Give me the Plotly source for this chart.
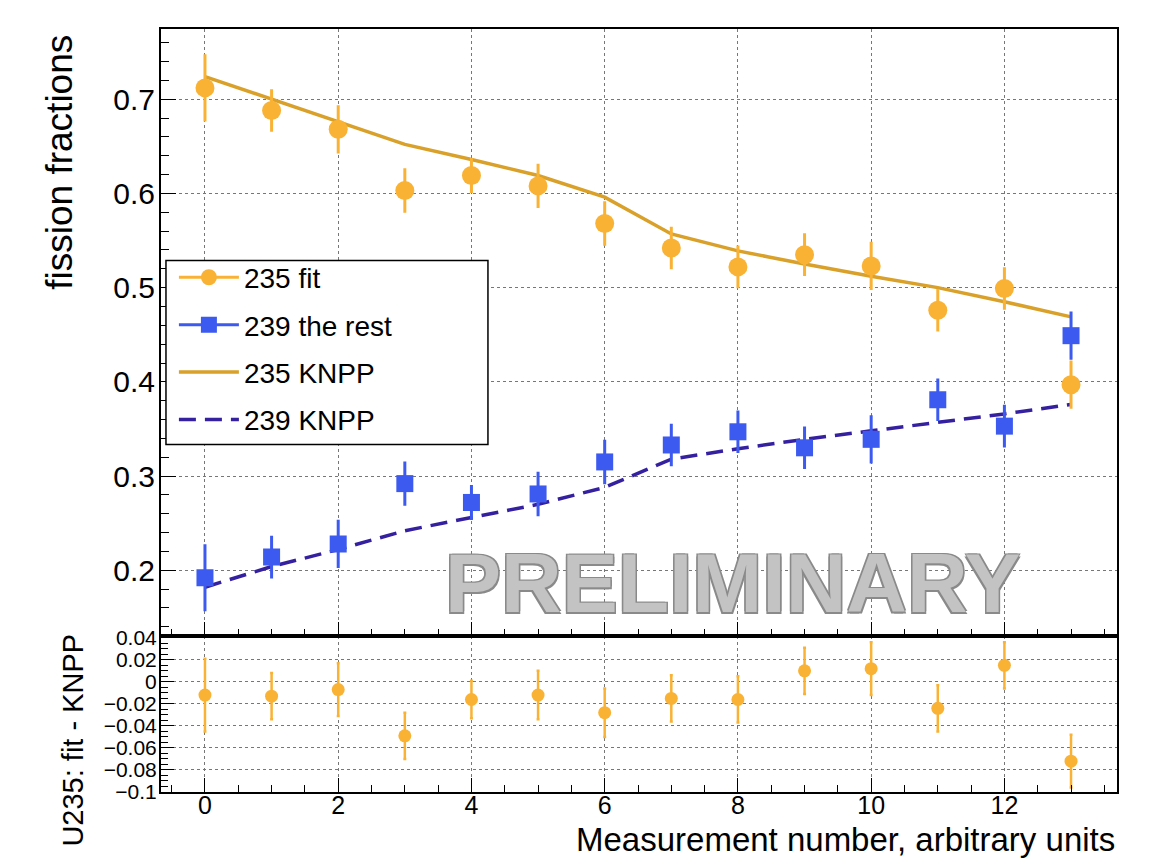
import plotly.graph_objects as go

# ---- data ----
measurement = [0, 1, 2, 3, 4, 5, 6, 7, 8, 9, 10, 11, 12, 13]
u235_fit = [0.712, 0.688, 0.668, 0.603, 0.619, 0.608, 0.568, 0.542, 0.522, 0.535, 0.523, 0.476, 0.499, 0.397]
u235_fit_err = [0.034, 0.021, 0.024, 0.022, 0.017, 0.022, 0.022, 0.021, 0.021, 0.021, 0.024, 0.021, 0.021, 0.024]
u239_rest = [0.192, 0.214, 0.228, 0.292, 0.272, 0.281, 0.315, 0.333, 0.347, 0.330, 0.339, 0.381, 0.353, 0.449]
u239_rest_err = [0.034, 0.021, 0.024, 0.022, 0.017, 0.022, 0.022, 0.021, 0.021, 0.021, 0.024, 0.021, 0.021, 0.024]
u235_knpp = [0.724, 0.700, 0.676, 0.652, 0.636, 0.619, 0.596, 0.557, 0.539, 0.525, 0.512, 0.500, 0.485, 0.469]
u239_knpp = [0.182, 0.204, 0.222, 0.242, 0.256, 0.270, 0.288, 0.318, 0.329, 0.339, 0.348, 0.357, 0.366, 0.376]
resid = [-0.012, -0.013, -0.007, -0.049, -0.016, -0.012, -0.028, -0.015, -0.016, 0.010, 0.012, -0.024, 0.015, -0.072]
resid_err = [0.033, 0.021, 0.024, 0.021, 0.017, 0.022, 0.022, 0.021, 0.021, 0.021, 0.024, 0.021, 0.021, 0.024]

ORANGE = "#F9B234"
GOLD = "#D9A12A"
BLUE = "#3C5AF0"
INDIGO = "#3520A0"
FONT = "Liberation Sans"

fig = go.Figure()

# top panel lines
fig.add_trace(go.Scatter(x=measurement, y=u235_knpp, mode="lines", xaxis="x2", yaxis="y",
                         line=dict(color=GOLD, width=3.5), showlegend=False))
fig.add_trace(go.Scatter(x=measurement, y=u239_knpp, mode="lines", xaxis="x2", yaxis="y",
                         line=dict(color=INDIGO, width=3.5, dash="17px,9px"), showlegend=False))
# top panel markers
fig.add_trace(go.Scatter(x=measurement, y=u235_fit, mode="markers", xaxis="x2", yaxis="y",
                         marker=dict(symbol="circle", size=19, color=ORANGE),
                         error_y=dict(type="data", array=u235_fit_err, color=ORANGE, thickness=3, width=1.5),
                         showlegend=False))
fig.add_trace(go.Scatter(x=measurement, y=u239_rest, mode="markers", xaxis="x2", yaxis="y",
                         marker=dict(symbol="square", size=17, color=BLUE),
                         error_y=dict(type="data", array=u239_rest_err, color=BLUE, thickness=3, width=1.5),
                         showlegend=False))
# bottom panel residuals
fig.add_trace(go.Scatter(x=measurement, y=resid, mode="markers", xaxis="x", yaxis="y2",
                         marker=dict(symbol="circle", size=13, color=ORANGE),
                         error_y=dict(type="data", array=resid_err, color=ORANGE, thickness=2.5, width=1.5),
                         showlegend=False))

# legend entries
leg = [
    ("235 fit", dict(mode="lines+markers", line=dict(color=ORANGE, width=3), marker=dict(symbol="circle", size=19, color=ORANGE))),
    ("239 the rest", dict(mode="lines+markers", line=dict(color=BLUE, width=3), marker=dict(symbol="square", size=17, color=BLUE))),
    ("235 KNPP", dict(mode="lines", line=dict(color=GOLD, width=3.5))),
    ("239 KNPP", dict(mode="lines", line=dict(color=INDIGO, width=3.5, dash="17px,9px"))),
]
for i, (name, kw) in enumerate(leg):
    fig.add_trace(go.Scatter(x=[None], y=[None], name=name, xaxis="x2", yaxis="y",
                             legendgroup=f"g{i}", showlegend=True, **kw))

axis_common = dict(showline=True, linecolor="black", linewidth=2, mirror=True,
                   ticks="inside", tickcolor="black", zeroline=False,
                   showgrid=True, gridcolor="#777777", gridwidth=1, griddash="dot")

xr = [-0.66, 13.69]
fig.update_layout(
    width=1146, height=856,
    margin=dict(l=153, r=37, t=13, b=72),
    paper_bgcolor="white", plot_bgcolor="white",
    font=dict(family=FONT, color="black"),
    xaxis=dict(domain=[0, 1], anchor="y2", range=xr, dtick=2, tick0=0, ticklen=14,
               tickfont=dict(size=25), ticklabelstandoff=-10,
               minor=dict(dtick=0.5, ticklen=7, ticks="inside", tickcolor="black", showgrid=False),
               **axis_common),
    xaxis2=dict(domain=[0, 1], anchor="y", matches="x", range=xr, dtick=2, tick0=0, ticklen=14,
                showticklabels=False,
                minor=dict(dtick=0.5, ticklen=7, ticks="inside", tickcolor="black", showgrid=False),
                **axis_common),
    yaxis=dict(domain=[0.205, 1], anchor="x2", range=[0.1307, 0.7745], dtick=0.1, tick0=0, ticklen=15,
               tickfont=dict(size=30), ticklabelstandoff=-2,
               minor=dict(dtick=0.02, ticklen=8, ticks="inside", tickcolor="black", showgrid=False),
               **axis_common),
    yaxis2=dict(domain=[0, 0.205], anchor="x", range=[-0.1, 0.042], dtick=0.02, tick0=0, ticklen=13,
                tickfont=dict(size=21), ticklabelstandoff=-2,
                minor=dict(dtick=0.005, ticklen=7, ticks="inside", tickcolor="black", showgrid=False),
                **axis_common),
    legend=dict(x=0.0135, y=0.707, xanchor="left", yanchor="top", bgcolor="rgba(0,0,0,0)",
                borderwidth=0, font=dict(size=28, family=FONT), itemwidth=60,
                traceorder="grouped", tracegroupgap=8),
    shapes=[dict(type="rect", xref="paper", yref="paper", x0=0.0052, x1=0.342, y0=0.4553, y1=0.6965,
                 line=dict(color="black", width=1.5), fillcolor="white", layer="above")],
    annotations=[
        dict(text="fission fractions", xref="paper", yref="paper", x=-0.1057, y=0.826,
             xanchor="center", yanchor="middle", textangle=-90, showarrow=False,
             font=dict(size=37, family=FONT)),
        dict(text="U235: fit - KNPP", xref="paper", yref="paper", x=-0.092, y=0.0674,
             xanchor="center", yanchor="middle", textangle=-90, showarrow=False,
             font=dict(size=29, family=FONT)),
        dict(text="Measurement number, arbitrary units", xref="paper", yref="paper", x=1.0, y=-0.0623,
             xanchor="right", yanchor="middle", showarrow=False,
             font=dict(size=33, family=FONT)),
        dict(text="<b>PRELIMINARY</b>", xref="x2", yref="y", x=7.93, y=0.187,
             xanchor="center", yanchor="middle", showarrow=False,
             font=dict(size=84, family=FONT, color="#C3C3C3",
                       shadow="-1.5px -1.5px 0 #8a8a8a, 1.5px -1.5px 0 #8a8a8a, -1.5px 1.5px 0 #8a8a8a, 1.5px 1.5px 0 #8a8a8a")),
    ],
)

fig.write_html("out.html")
